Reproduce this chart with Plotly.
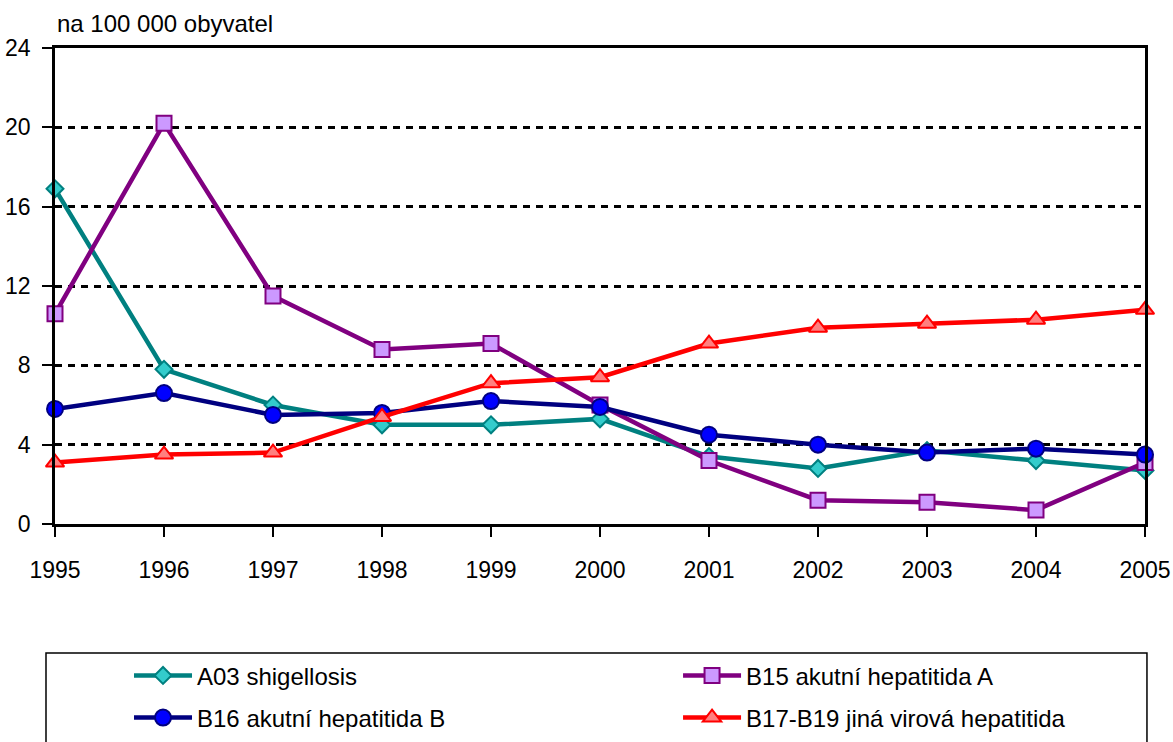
import plotly.graph_objects as go

years = [1995, 1996, 1997, 1998, 1999, 2000, 2001, 2002, 2003, 2004, 2005]
a03 = [16.9, 7.8, 6.0, 5.0, 5.0, 5.3, 3.4, 2.8, 3.7, 3.2, 2.7]
b15 = [10.6, 20.2, 11.5, 8.8, 9.1, 6.0, 3.2, 1.2, 1.1, 0.7, 3.1]
b16 = [5.8, 6.6, 5.5, 5.6, 6.2, 5.9, 4.5, 4.0, 3.6, 3.8, 3.5]
b17 = [3.1, 3.5, 3.6, 5.4, 7.1, 7.4, 9.1, 9.9, 10.1, 10.3, 10.8]
names = ["A03 shigellosis", "B15 akutní hepatitida A",
         "B16 akutní hepatitida B", "B17-B19 jiná virová hepatitida"]
y_ticks = [0, 4, 8, 12, 16, 20, 24]
y_title = "na 100 000 obyvatel"

FONT = "Liberation Sans, Arial, sans-serif"

fig = go.Figure()
specs = [
    (a03, names[0], "#008080", "#33CCCC", "diamond", 13, "legend"),
    (b15, names[1], "#800080", "#CC99FF", "square", 15, "legend2"),
    (b16, names[2], "#000080", "#0000FF", "circle", 16, "legend3"),
    (b17, names[3], "#FF0000", "#FF8080", "triangle-up", 16, "legend4"),
]
for vals, nm, lc, fc, sym, sz, lg in specs:
    fig.add_trace(go.Scatter(
        x=years, y=vals, name=nm, mode="lines+markers",
        line=dict(color=lc, width=4.5),
        marker=dict(symbol=sym, size=sz, color=fc, line=dict(color=lc, width=2)),
        cliponaxis=False, legend=lg,
    ))

leg_common = dict(orientation="h", xanchor="left", yanchor="middle",
                  font=dict(family=FONT, size=24, color="black"),
                  itemwidth=58, bgcolor="rgba(0,0,0,0)", borderwidth=0)
col1, col2 = 0.0679, 0.5716
row1, row2 = -0.319, -0.4076

fig.update_layout(
    width=1173, height=742,
    margin=dict(l=55, r=28, t=48, b=218, autoexpand=False),
    paper_bgcolor="white", plot_bgcolor="white",
    font=dict(family=FONT, size=23, color="black"),
    showlegend=True,
    legend=dict(x=col1, y=row1, **leg_common),
    legend2=dict(x=col2, y=row1, **leg_common),
    legend3=dict(x=col1, y=row2, **leg_common),
    legend4=dict(x=col2, y=row2, **leg_common),
    xaxis=dict(range=[1995, 2005], tickvals=years, ticktext=[str(y) for y in years],
               showgrid=False, showline=True, linecolor="black", linewidth=2.5,
               mirror=True, ticks="outside", ticklen=10, tickwidth=2, tickcolor="black",
               ticklabelstandoff=14, zeroline=False, automargin=False,
               ticklabeloverflow="allow", tickfont=dict(size=23)),
    yaxis=dict(range=[0, 24], tickvals=y_ticks, showgrid=True, gridcolor="black",
               gridwidth=2.5, griddash="7px,6px", showline=True, linecolor="black",
               linewidth=2.5, mirror=True, ticks="outside", ticklen=10, tickwidth=2,
               tickcolor="black", ticklabelstandoff=7, zeroline=False, automargin=False,
               ticklabeloverflow="allow", tickfont=dict(size=23)),
    annotations=[dict(text=y_title, xref="paper", yref="paper", x=0.0, y=1.0525,
                      xanchor="left", yanchor="middle", showarrow=False,
                      font=dict(family=FONT, size=24, color="black"))],
    shapes=[dict(type="rect", xref="paper", yref="paper", x0=-0.00826, x1=1.0018,
                 y0=-0.271, y1=-0.52, line=dict(color="black", width=1.5),
                 fillcolor="rgba(0,0,0,0)")],
)

fig.write_html("out.html", config={"displayModeBar": False},
               post_script="document.body.style.margin='0px';document.body.style.overflow='hidden';")
